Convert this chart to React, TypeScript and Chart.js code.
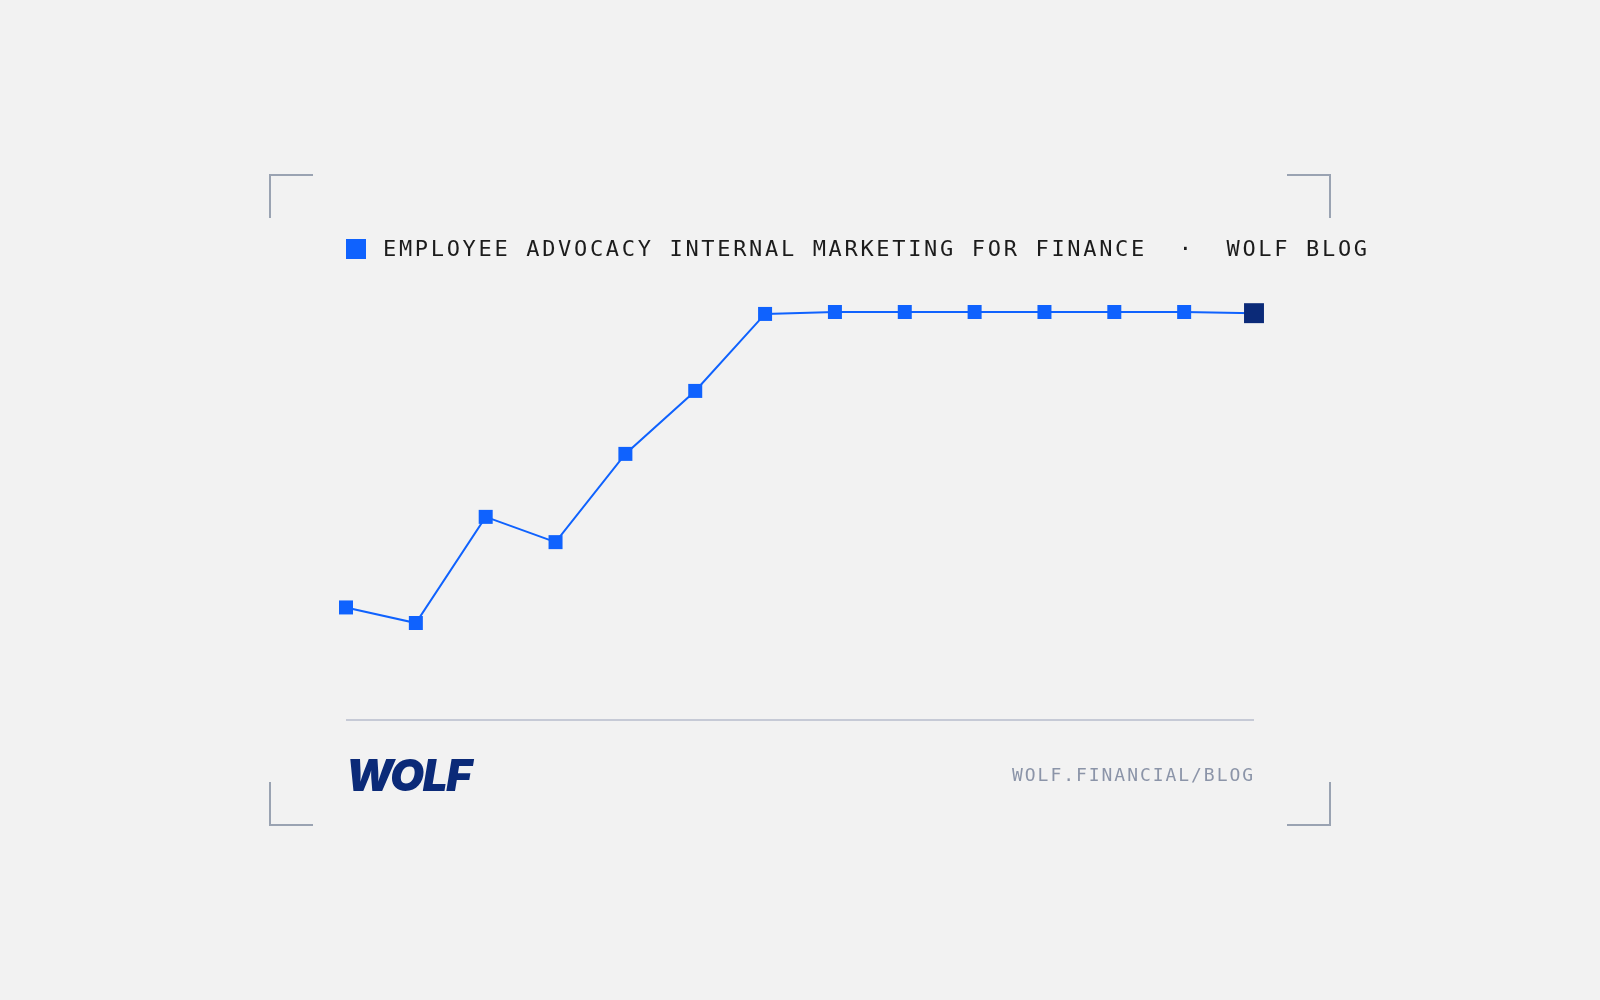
import { useEffect, useRef } from 'react';
import { Chart, registerables } from 'chart.js';

Chart.register(...registerables);

// data (hidden axis, 20..100)
const labels = ['P1', 'P2', 'P3', 'P4', 'P5', 'P6', 'P7', 'P8', 'P9', 'P10', 'P11', 'P12', 'P13', 'P14'];
const values = [24, 20, 47.3, 40.8, 63.5, 79.7, 99.5, 100, 100, 100, 100, 100, 100, 99.7];
const yMin = 20;
const yMax = 100;

const title = 'EMPLOYEE ADVOCACY INTERNAL MARKETING FOR FINANCE  \u00b7  WOLF BLOG';
const footerUrl = 'WOLF.FINANCIAL/BLOG';

const BLUE = '#0f62fe';
const NAVY = '#0b2a78';
const CORNER = '#9aa3b2';

function Corner({ left, top, h, v }: { left: number; top: number; h: 'l' | 'r'; v: 't' | 'b' }) {
  const s: React.CSSProperties = {
    position: 'absolute',
    left,
    top,
    width: 44,
    height: 44,
    boxSizing: 'border-box',
    borderColor: CORNER,
    borderStyle: 'solid',
    borderWidth: 0,
  };
  if (h === 'l') s.borderLeftWidth = 2;
  else s.borderRightWidth = 2;
  if (v === 't') s.borderTopWidth = 2;
  else s.borderBottomWidth = 2;
  return <div style={s} />;
}

export default function App() {
  const chartRef = useRef<HTMLCanvasElement>(null);
  const chartInstance = useRef<Chart | null>(null);

  useEffect(() => {
    if (!chartRef.current) return;
    const ctx = chartRef.current.getContext('2d');
    if (!ctx) return;

    if (chartInstance.current) {
      chartInstance.current.destroy();
      chartInstance.current = null;
    }

    const last = values.length - 1;

    chartInstance.current = new Chart(ctx, {
      type: 'line',
      data: {
        labels,
        datasets: [
          {
            label: 'Employee advocacy',
            data: values,
            borderColor: BLUE,
            borderWidth: 2,
            tension: 0,
            clip: false,
            pointStyle: 'rect',
            pointRadius: (c) => (c.dataIndex === last ? 14.1 : 9.9),
            pointHoverRadius: (c) => (c.dataIndex === last ? 14.1 : 9.9),
            pointBackgroundColor: (c) => (c.dataIndex === last ? NAVY : BLUE),
            pointBorderWidth: 0,
          },
        ],
      },
      options: {
        animation: false,
        responsive: true,
        maintainAspectRatio: false,
        layout: {
          padding: { left: 346, right: 346, top: 312, bottom: 377 },
        },
        plugins: {
          legend: { display: false },
          tooltip: { enabled: false },
        },
        scales: {
          x: { display: false },
          y: { display: false, min: yMin, max: yMax },
        },
      },
    });

    return () => {
      if (chartInstance.current) {
        chartInstance.current.destroy();
        chartInstance.current = null;
      }
    };
  }, []);

  return (
    <div
      style={{
        position: 'fixed',
        left: 0,
        top: 0,
        width: 1600,
        height: 1000,
        background: '#f2f2f2',
        overflow: 'hidden',
      }}
    >
      <div style={{ position: 'absolute', left: 0, top: 0, width: 1600, height: 1000 }}>
        <canvas ref={chartRef}></canvas>
      </div>

      <Corner left={269} top={174} h="l" v="t" />
      <Corner left={1287} top={174} h="r" v="t" />
      <Corner left={269} top={782} h="l" v="b" />
      <Corner left={1287} top={782} h="r" v="b" />

      {/* legend / title */}
      <div style={{ position: 'absolute', left: 346, top: 239, width: 20, height: 20, background: BLUE }} />
      <div
        style={{
          position: 'absolute',
          left: 383,
          top: 238,
          fontFamily: '"DejaVu Sans Mono", monospace',
          fontSize: 22,
          lineHeight: '22px',
          letterSpacing: 2.67,
          color: '#1c1c1c',
          whiteSpace: 'pre',
        }}
      >
        {title}
      </div>

      {/* footer */}
      <div style={{ position: 'absolute', left: 346, top: 719, width: 908, height: 1.5, background: '#c6cad6' }} />
      <div
        style={{
          position: 'absolute',
          left: 346,
          top: 753,
          fontFamily: 'Inter, sans-serif',
          fontWeight: 900,
          fontStyle: 'italic',
          fontSize: 44,
          lineHeight: '44px',
          letterSpacing: -1.5,
          color: NAVY,
          whiteSpace: 'pre',
        }}
      >
        WOLF
      </div>
      <div
        style={{
          position: 'absolute',
          right: 345,
          top: 766,
          fontFamily: '"DejaVu Sans Mono", monospace',
          fontSize: 18,
          lineHeight: '18px',
          letterSpacing: 1.95,
          color: '#8b94a8',
          whiteSpace: 'pre',
        }}
      >
        {footerUrl}
      </div>
    </div>
  );
}
